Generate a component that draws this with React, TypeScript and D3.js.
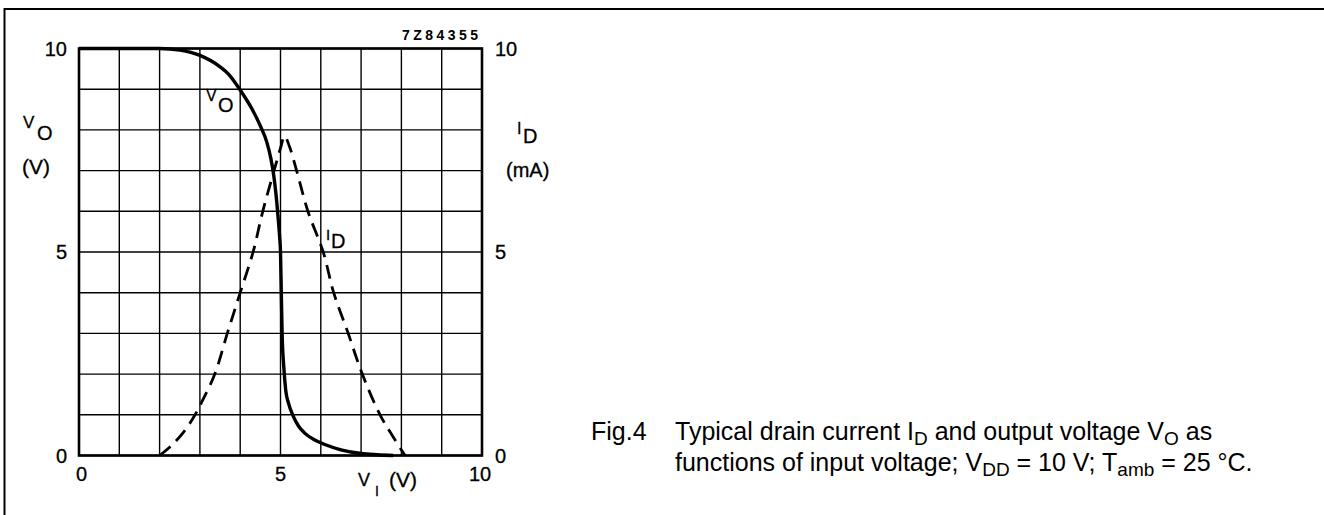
import React from 'react';
import * as d3 from 'd3';

const W = 1324;
const H = 515;

// output voltage V_O (V) read against input voltage V_I (V)
const voIn = [0, 1, 2, 2.5, 3, 3.5, 3.72, 4.0, 4.3, 4.5, 4.66, 4.76, 4.83, 4.89, 4.94, 4.98, 5.0, 5.02, 5.04, 5.08, 5.13, 5.2, 5.31, 5.45, 5.6, 5.85, 6.1, 6.5, 7.0, 7.4, 7.8];
const voOut = [10, 10, 10, 9.96, 9.83, 9.55, 9.36, 8.98, 8.5, 8.1, 7.7, 7.3, 6.9, 6.4, 5.85, 5.35, 5.0, 4.0, 3.0, 2.2, 1.6, 1.28, 0.98, 0.72, 0.55, 0.38, 0.27, 0.14, 0.05, 0.02, 0];

// drain current I_D (mA) read against input voltage V_I (V)
const idIn = [2.0, 2.3, 2.6, 2.88, 3.1, 3.37, 3.68, 4.0, 4.32, 4.56, 4.84, 5.0, 5.1, 5.22, 5.4, 5.68, 6.06, 6.32, 6.68, 7.03, 7.47, 7.8, 8.09];
const idMa = [0, 0.25, 0.58, 1.0, 1.42, 2.0, 3.0, 4.0, 5.0, 6.0, 7.0, 7.55, 7.85, 7.6, 7.0, 6.0, 5.0, 4.0, 3.0, 2.0, 1.0, 0.45, 0];

const xTicks = [0, 5, 10];
const yTicks = [0, 5, 10];
const gridSteps = d3.range(0, 11);

const font = "'Liberation Sans', Arial, Helvetica, sans-serif";

export default function App() {
  const x = d3.scaleLinear().domain([0, 10]).range([79, 482]);
  const y = d3.scaleLinear().domain([0, 10]).range([455.5, 48.5]);

  const voLine = d3
    .line<number>()
    .x((_, i) => x(voIn[i]))
    .y((d) => y(d))
    .curve(d3.curveMonotoneX);

  const idLine = d3
    .line<number>()
    .x((_, i) => x(idIn[i]))
    .y((d) => y(d))
    .curve(d3.curveCatmullRom.alpha(0.5));

  const [x0, x1] = x.range();
  const [y0, y1] = y.range();

  return (
    <svg
      width={W}
      height={H}
      style={{ position: 'absolute', left: 0, top: 0, background: '#fff' }}
      fontFamily={font}
    >
      {/* page frame */}
      <line x1={4.5} x2={W + 5} y1={9} y2={9} stroke="#000" strokeWidth={2.2} />
      <line x1={4.5} x2={4.5} y1={8} y2={H + 5} stroke="#000" strokeWidth={2} />

      {/* grid */}
      {gridSteps.map((v) => (
        <line key={'gx' + v} x1={x(v)} x2={x(v)} y1={y1} y2={y0} stroke="#000" strokeWidth={1.4} />
      ))}
      {gridSteps.map((v) => (
        <line key={'gy' + v} x1={x0} x2={x1} y1={y(v)} y2={y(v)} stroke="#000" strokeWidth={1.4} />
      ))}
      <rect x={x0} y={y1} width={x1 - x0} height={y0 - y1} fill="none" stroke="#000" strokeWidth={2.6} />

      {/* curves */}
      <path d={idLine(idMa) || ''} fill="none" stroke="#000" strokeWidth={2.8} strokeDasharray="14,8" />
      <path d={voLine(voOut) || ''} fill="none" stroke="#000" strokeWidth={3.4} />

      {/* tick labels */}
      <g fontSize={20} fill="#000" stroke="#000" strokeWidth={0.3}>
        {yTicks.map((v) => (
          <text key={'l' + v} x={67} y={y(v) + 7.2} textAnchor="end">{v}</text>
        ))}
        {yTicks.map((v) => (
          <text key={'r' + v} x={495} y={y(v) + 7.2}>{v}</text>
        ))}
        {xTicks.map((v, i) => (
          <text key={'b' + v} x={x(v) + (i === 0 ? 2.5 : i === 2 ? -2 : 0)} y={481} textAnchor="middle">{v}</text>
        ))}
      </g>

      <text x={402} y={40} fontSize={14} fontWeight="bold" textLength={76} lengthAdjust="spacing">7Z84355</text>

      {/* axis titles */}
      <g fill="#000" stroke="#000" strokeWidth={0.3}>
        <text x={23} y={128} fontSize={17}>V</text>
        <text x={37} y={140} fontSize={20}>O</text>
        <text x={22} y={174} fontSize={21}>(V)</text>

        <text x={517} y={134} fontSize={16}>I</text>
        <text x={523} y={143} fontSize={20}>D</text>
        <text x={506} y={177} fontSize={20}>(mA)</text>

        <text x={358} y={486} fontSize={18}>V</text>
        <text x={375} y={496} fontSize={14}>I</text>
        <text x={389} y={487} fontSize={21}>(V)</text>

        <text x={206} y={101} fontSize={16}>V</text>
        <text x={218} y={112} fontSize={20}>O</text>

        <text x={326} y={240} fontSize={15}>I</text>
        <text x={331} y={248} fontSize={20}>D</text>
      </g>

      {/* caption */}
      <g fontSize={25} fill="#000">
        <text x={591} y={440}>Fig.4</text>
        <text x={675} y={440}>
          Typical drain current I<tspan fontSize={19} dy={5}>D</tspan>
          <tspan dy={-5}> and output voltage V</tspan>
          <tspan fontSize={19} dy={5}>O</tspan>
          <tspan dy={-5}> as</tspan>
        </text>
        <text x={675} y={471}>
          functions of input voltage; V<tspan fontSize={19} dy={5}>DD</tspan>
          <tspan dy={-5}> = 10 V; T</tspan>
          <tspan fontSize={19} dy={5}>amb</tspan>
          <tspan dy={-5}> = 25 °C.</tspan>
        </text>
      </g>
    </svg>
  );
}
